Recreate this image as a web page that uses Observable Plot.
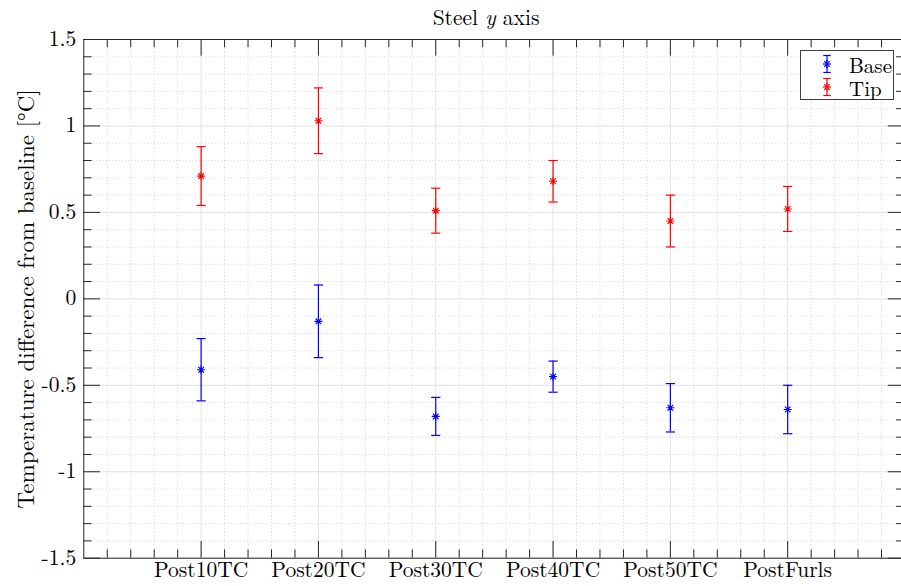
<!DOCTYPE html>
<html><head><meta charset="utf-8">
<script src="https://cdn.jsdelivr.net/npm/d3@7"></script>
<script src="https://cdn.jsdelivr.net/npm/@observablehq/plot@0.6"></script>
<style>
html,body{margin:0;padding:0;background:#fff;overflow:hidden;}
#wrap{position:relative;width:901px;height:586px;overflow:hidden;font-family:'Latin Modern Roman','Liberation Serif',serif;color:#000;}
#title{position:absolute;left:0;width:972px;top:3px;text-align:center;font-size:21.5px;line-height:26px;font-family:'Latin Modern Roman','Liberation Serif',serif;}
#legend{position:absolute;left:800px;top:50px;width:94px;height:50px;border:1px solid #404040;background:#fff;box-sizing:border-box;}
#legend .row{position:absolute;left:0;width:92px;height:22px;font-size:21px;line-height:22px;font-family:'Latin Modern Roman','Liberation Serif',serif;}
#legend .row span{position:absolute;left:48px;top:0;}
#legend svg{position:absolute;left:18px;top:-1px;}
#wrap > svg{max-width:none !important;}
</style></head><body><div id="wrap"><div id="title">Steel <i>y</i> axis</div></div>
<script>
// ---- data ----
const categories = ["Post10TC", "Post20TC", "Post30TC", "Post40TC", "Post50TC", "PostFurls"];
const baseMean = [-0.41, -0.13, -0.68, -0.45, -0.63, -0.64];
const baseLow  = [-0.59, -0.34, -0.79, -0.54, -0.77, -0.78];
const baseHigh = [-0.23,  0.08, -0.57, -0.36, -0.49, -0.50];
const tipMean  = [0.71, 1.03, 0.51, 0.68, 0.45, 0.52];
const tipLow   = [0.54, 0.84, 0.38, 0.56, 0.30, 0.39];
const tipHigh  = [0.88, 1.22, 0.64, 0.80, 0.60, 0.65];
const seriesNames = ["Base", "Tip"];
const seriesColors = ["#0000ff", "#ff0000"];
const yTickValues = [-1.5, -1, -0.5, 0, 0.5, 1, 1.5];
const yTickLabels = ["-1.5", "-1", "-0.5", "0", "0.5", "1", "1.5"];
const xDomain = [0, 7];
const yDomain = [-1.5, 1.5];

// ---- layout ----
const W = 906, H = 586, mL = 83.3, mR = 1.5, mT = 39, mB = 28.3;
const pxX = (W - mL - mR) / (xDomain[1] - xDomain[0]);
const pxY = (H - mT - mB) / (yDomain[1] - yDomain[0]);
const majorLen = 16.7, minorLen = 8.3;
const FONT = "'Latin Modern Roman', 'Liberation Serif', serif";
const FS = 21.5;

const rows = [];
categories.forEach((c, i) => {
  rows.push({cat: c, pos: i + 1, series: "Base", mean: baseMean[i], lo: baseLow[i], hi: baseHigh[i]});
  rows.push({cat: c, pos: i + 1, series: "Tip", mean: tipMean[i], lo: tipLow[i], hi: tipHigh[i]});
});

const xMajor = categories.map((c, i) => i + 1);
const xMinor = d3.range(1, 35).map(k => k / 5).filter(v => Math.abs(v - Math.round(v)) > 1e-6);
const yMinor = d3.range(-14, 15).map(k => k / 10).filter(v => Math.abs(v * 2 - Math.round(v * 2)) > 1e-6);

const star = {draw(ctx, size) {
  const r = Math.sqrt(size / Math.PI), d = r * Math.SQRT1_2;
  ctx.moveTo(-r, 0); ctx.lineTo(r, 0);
  ctx.moveTo(0, -r); ctx.lineTo(0, r);
  ctx.moveTo(-d, -d); ctx.lineTo(d, d);
  ctx.moveTo(-d, d); ctx.lineTo(d, -d);
}};
const cap = {draw(ctx, size) {
  const r = Math.sqrt(size / Math.PI);
  ctx.moveTo(-r, 0); ctx.lineTo(r, 0);
}};

const axisColor = "#262626";
const lx = (px) => px / pxX, ly = (px) => px / pxY;

const chart = Plot.plot({
  width: W, height: H,
  marginLeft: mL, marginRight: mR, marginTop: mT, marginBottom: mB,
  x: {domain: xDomain, axis: null},
  y: {domain: yDomain, axis: null},
  color: {domain: seriesNames, range: seriesColors},
  style: {fontFamily: FONT, background: "#fff", overflow: "visible"},
  marks: [
    // minor dotted grid
    Plot.ruleX(xMinor, {x: d => d, stroke: "#c8c8c8", strokeDasharray: "1,2.2", strokeWidth: 0.8}),
    Plot.ruleY(yMinor, {y: d => d, stroke: "#c8c8c8", strokeDasharray: "1,2.2", strokeWidth: 0.8}),
    // major solid grid
    Plot.ruleX(xMajor, {x: d => d, stroke: "#e2e2e2", strokeWidth: 1}),
    Plot.ruleY(yTickValues, {y: d => d, stroke: "#e2e2e2", strokeWidth: 1}),
    // frame
    Plot.frame({stroke: axisColor, strokeWidth: 1}),
    // x ticks bottom/top
    Plot.ruleX(xMajor, {x: d => d, y1: yDomain[0], y2: yDomain[0] + ly(majorLen), stroke: axisColor}),
    Plot.ruleX(xMajor, {x: d => d, y1: yDomain[1] - ly(majorLen), y2: yDomain[1], stroke: axisColor}),
    Plot.ruleX(xMinor, {x: d => d, y1: yDomain[0], y2: yDomain[0] + ly(minorLen), stroke: axisColor}),
    Plot.ruleX(xMinor, {x: d => d, y1: yDomain[1] - ly(minorLen), y2: yDomain[1], stroke: axisColor}),
    // y ticks left/right
    Plot.ruleY(yTickValues, {y: d => d, x1: xDomain[0], x2: xDomain[0] + lx(majorLen), stroke: axisColor}),
    Plot.ruleY(yTickValues, {y: d => d, x1: xDomain[1] - lx(majorLen), x2: xDomain[1], stroke: axisColor}),
    Plot.ruleY(yMinor, {y: d => d, x1: xDomain[0], x2: xDomain[0] + lx(minorLen), stroke: axisColor}),
    Plot.ruleY(yMinor, {y: d => d, x1: xDomain[1] - lx(minorLen), x2: xDomain[1], stroke: axisColor}),
    // tick labels
    Plot.text(yTickValues, {y: d => d, frameAnchor: "left", text: (d, i) => yTickLabels[i], textAnchor: "end", dx: -7.6, dy: -0.5, fontSize: FS, fontFamily: FONT, fill: "#000"}),
    Plot.text(categories, {x: (d, i) => i + 1, frameAnchor: "bottom", text: d => d, dy: 18.4, fontSize: FS, fontFamily: FONT, fill: "#000"}),
    // y label
    Plot.text(["Temperature difference from baseline [°C]"], {frameAnchor: "left", textAnchor: "middle", dx: -57.5, rotate: -90, fontSize: 23, fontFamily: FONT, fill: "#000"}),
    // error bars
    Plot.ruleX(rows, {x: "pos", y1: "lo", y2: "hi", stroke: "series", strokeWidth: 1.2}),
    Plot.dot(rows, {x: "pos", y: "lo", symbol: cap, r: 4.6, stroke: "series", fill: "none", strokeWidth: 1.2}),
    Plot.dot(rows, {x: "pos", y: "hi", symbol: cap, r: 4.6, stroke: "series", fill: "none", strokeWidth: 1.2}),
    Plot.dot(rows, {x: "pos", y: "mean", symbol: star, r: 4, stroke: "series", fill: "none", strokeWidth: 1.1})
  ]
});
const wrap = document.getElementById("wrap");
wrap.insertBefore(chart, wrap.firstChild);
chart.style.position = "absolute";
chart.style.left = "0px";
chart.style.top = "0px";

// legend
const legend = document.createElement("div");
legend.id = "legend";
seriesNames.forEach((name, i) => {
  const row = document.createElement("div");
  row.className = "row";
  row.style.top = (i === 0 ? 2 : 25) + "px";
  const c = seriesColors[i];
  row.innerHTML = `<svg width="20" height="24" viewBox="0 0 20 24">
    <g stroke="${c}" stroke-width="1.2" fill="none">
      <line x1="8" y1="3.5" x2="8" y2="20.5"/><line x1="4.3" y1="3.5" x2="11.7" y2="3.5"/><line x1="4.3" y1="20.5" x2="11.7" y2="20.5"/>
      <line x1="4" y1="12" x2="12" y2="12"/><line x1="8" y1="8" x2="8" y2="16"/><line x1="5.2" y1="9.2" x2="10.8" y2="14.8"/><line x1="5.2" y1="14.8" x2="10.8" y2="9.2"/>
    </g></svg><span>${name}</span>`;
  legend.appendChild(row);
});
wrap.appendChild(legend);
</script></body></html>
